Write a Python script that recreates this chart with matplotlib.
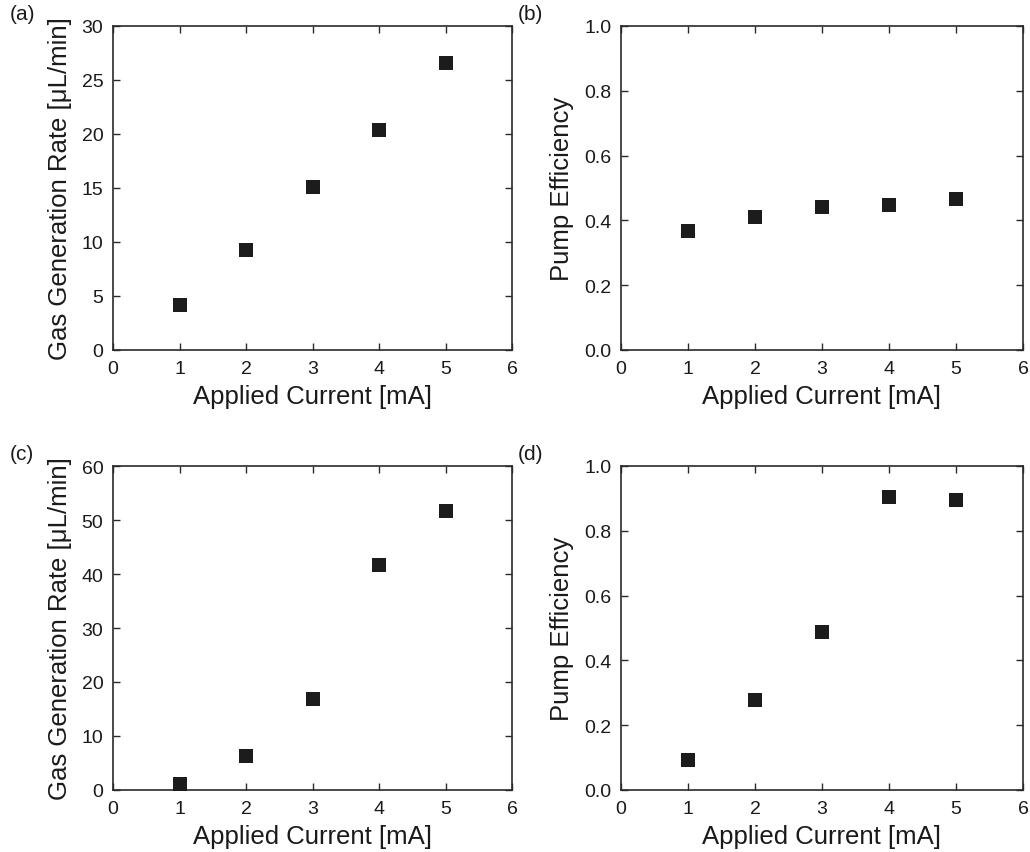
import matplotlib
matplotlib.use("Agg")
import matplotlib.pyplot as plt

plt.rcParams['font.family'] = ['Liberation Sans', 'DejaVu Sans']

current = [1, 2, 3, 4, 5]

gas_rate_a = [4.14, 9.29, 15.1, 20.4, 26.6]
efficiency_b = [0.366, 0.41, 0.442, 0.448, 0.467]
gas_rate_c = [1.05, 6.35, 16.8, 41.6, 51.6]
efficiency_d = [0.092, 0.278, 0.489, 0.903, 0.896]

panel_tags = ['(a)', '(b)', '(c)', '(d)']
xlabel_text = 'Applied Current [mA]'
rate_label = 'Gas Generation Rate [\u03bcL/min]'
eff_label = 'Pump Efficiency'

W, H = 1030, 853
fig = plt.figure(figsize=(W / 100, H / 100), dpi=100)

# axes boxes in pixel coordinates: left, top, right, bottom
boxes = [
    (113, 27, 512, 351),
    (621, 27, 1023, 351),
    (113, 467, 512, 791),
    (621, 467, 1023, 791),
]

panels = [
    (gas_rate_a, rate_label, (0, 30), [0, 5, 10, 15, 20, 25, 30], '{:.0f}'),
    (efficiency_b, eff_label, (0, 1.0), [0, 0.2, 0.4, 0.6, 0.8, 1.0], '{:.1f}'),
    (gas_rate_c, rate_label, (0, 60), [0, 10, 20, 30, 40, 50, 60], '{:.0f}'),
    (efficiency_d, eff_label, (0, 1.0), [0, 0.2, 0.4, 0.6, 0.8, 1.0], '{:.1f}'),
]

edge = '#2a2a2a'
for (l, t, r, b), (vals, ylab, ylim, yticks, fmt), tag in zip(boxes, panels, panel_tags):
    ax = fig.add_axes([l / W, 1 - b / H, (r - l) / W, (b - t) / H])
    ax.scatter(current, vals, marker='s', s=105, color='#1c1c1c', linewidths=0, zorder=3)
    ax.set_xlim(0, 6)
    ax.set_ylim(*ylim)
    ax.set_xticks(range(0, 7))
    ax.set_yticks(yticks)
    ax.set_yticklabels([fmt.format(v) for v in yticks])
    ax.tick_params(direction='in', length=5, width=1.0, color=edge,
                   top=True, right=True, labelsize=14, pad=7, labelcolor='#1a1a1a')
    for sp in ax.spines.values():
        sp.set_linewidth(1.2)
        sp.set_color(edge)
    ax.set_xlabel(xlabel_text, fontsize=18.5, labelpad=5, color='#1a1a1a')
    ax.set_ylabel(ylab, fontsize=18.5, labelpad=7, color='#1a1a1a')
    fig.text((l - 103) / W, 1 - (t - 12) / H, tag, fontsize=15, ha='left', va='center',
             color='#1a1a1a')

fig.savefig('out.png', dpi=100, facecolor='white')
